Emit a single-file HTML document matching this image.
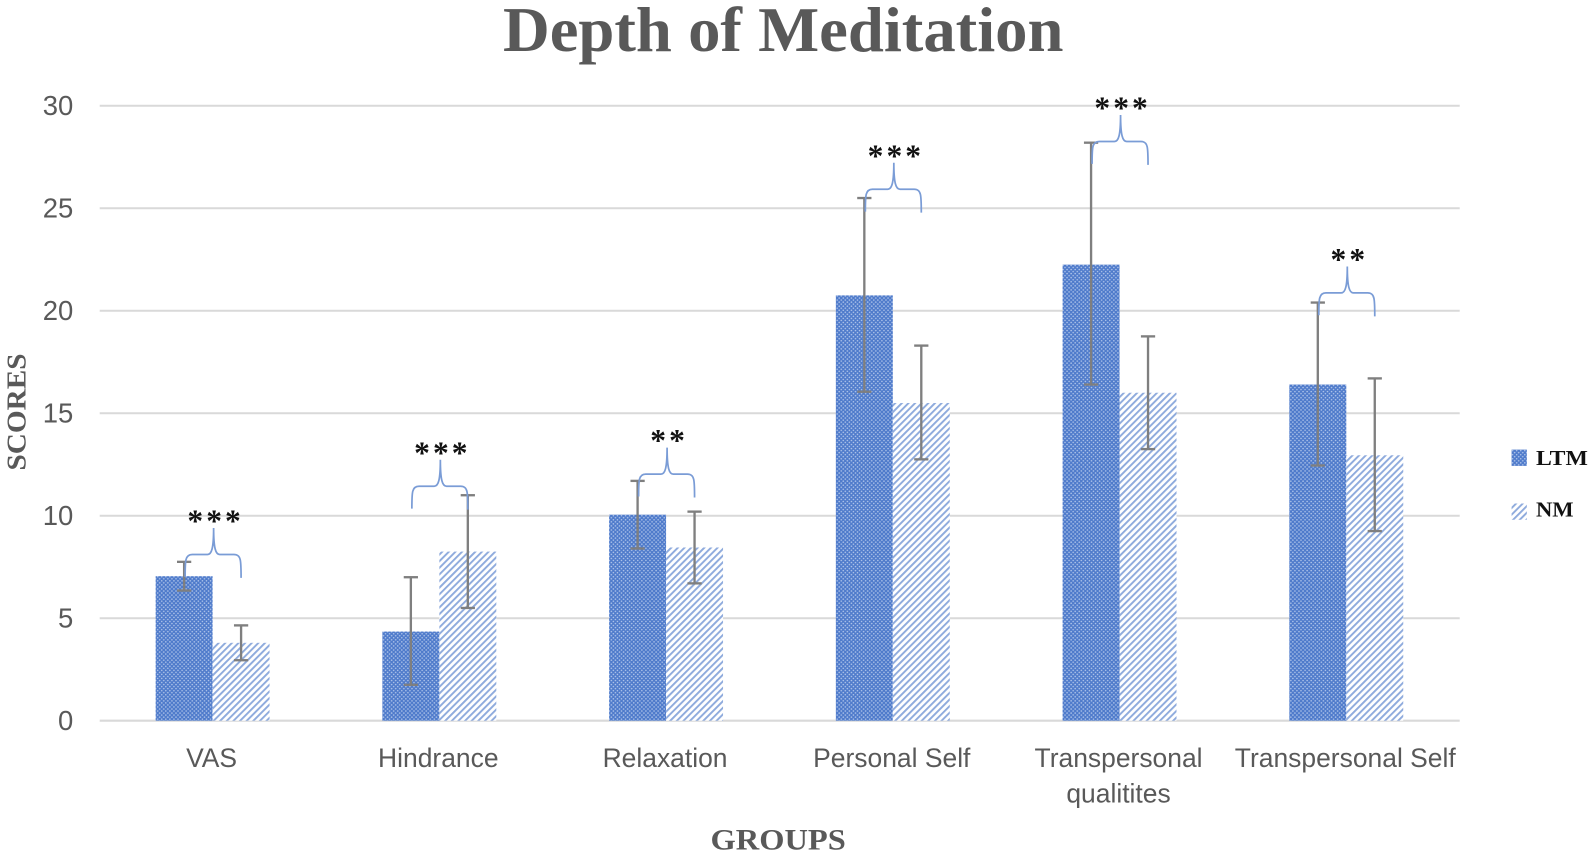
<!DOCTYPE html>
<html>
<head>
<meta charset="utf-8">
<title>Depth of Meditation</title>
<style>
html,body{margin:0;padding:0;background:#fff;}
svg{display:block;}
</style>
</head>
<body>
<svg id="chart" xmlns="http://www.w3.org/2000/svg" width="1595" height="857" viewBox="0 0 1568 842.5">
<defs>
<pattern id="dots" width="4" height="4" patternUnits="userSpaceOnUse">
<rect width="4" height="4" fill="#4f7bcb"/>
<circle cx="1" cy="1" r="0.8" fill="#b0c5ea"/>
<circle cx="3" cy="3" r="0.8" fill="#b0c5ea"/>
</pattern>
<pattern id="hatch" width="4.6" height="4.6" patternUnits="userSpaceOnUse" patternTransform="rotate(45)">
<rect width="4.6" height="4.6" fill="#fff"/>
<rect width="1.9" height="4.6" fill="#8fabdd"/>
</pattern>
</defs>
<text x="770" y="50" text-anchor="middle" font-family="'Liberation Serif',serif" font-weight="bold" font-size="62" fill="#595959" textLength="551" lengthAdjust="spacingAndGlyphs">Depth of Meditation</text>
<text transform="translate(25,405) rotate(-90)" text-anchor="middle" font-family="'Liberation Serif',serif" font-weight="bold" font-size="27" fill="#595959" textLength="115" lengthAdjust="spacingAndGlyphs">SCORES</text>
<text x="765" y="835" text-anchor="middle" font-family="'Liberation Serif',serif" font-weight="bold" font-size="29" fill="#595959" textLength="133" lengthAdjust="spacingAndGlyphs">GROUPS</text>
<g id="grid"></g>
<g id="bars"></g>
<g id="errs"></g>
<g id="sig"></g>
<g id="xlabels"></g>
<g>
<rect x="1486" y="442" width="15" height="16" fill="url(#dots)"/>
<text x="1510" y="457" font-family="'Liberation Serif',serif" font-weight="bold" font-size="21" fill="#111" textLength="51" lengthAdjust="spacingAndGlyphs">LTM</text>
<rect x="1486" y="495" width="15" height="16" fill="url(#hatch)"/>
<text x="1510" y="508" font-family="'Liberation Serif',serif" font-weight="bold" font-size="21" fill="#111" textLength="37" lengthAdjust="spacingAndGlyphs">NM</text>
</g>
</svg>
<script>
const categories = [["VAS"], ["Hindrance"], ["Relaxation"], ["Personal Self"], ["Transpersonal", "qualitites"], ["Transpersonal Self"]];
const ltmValues = [7.05, 4.35, 10.05, 20.75, 22.25, 16.4];
const nmValues = [3.8, 8.25, 8.45, 15.5, 16.0, 12.95];
const ltmHigh = [7.75, 7.0, 11.7, 25.5, 28.2, 20.4];
const ltmLow = [6.35, 1.75, 8.4, 16.05, 16.4, 12.45];
const nmHigh = [4.65, 11.0, 10.2, 18.3, 18.75, 16.7];
const nmLow = [2.95, 5.5, 6.7, 12.75, 13.25, 9.25];
const braceLevels = [8.11, 11.44, 12.03, 25.93, 28.26, 20.87];
const significance = ["***", "***", "**", "***", "***", "**"];
const yTicks = [0, 5, 10, 15, 20, 25, 30];

const NS = "http://www.w3.org/2000/svg";
const SANS = "'Liberation Sans',sans-serif";
const SERIF = "'Liberation Serif',serif";
const BAR_W = 56;
function yScale(v) { return 708.5 - v * 20.15; }
function xCenter(i) { return 209 + i * 222.9; }
function make(tag, attrs, parent, text) {
  const el = document.createElementNS(NS, tag);
  for (const k in attrs) el.setAttribute(k, attrs[k]);
  if (text !== undefined) el.textContent = text;
  parent.appendChild(el);
  return el;
}
const gGrid = document.getElementById("grid");
const gBars = document.getElementById("bars");
const gErrs = document.getElementById("errs");
const gSig = document.getElementById("sig");
const gX = document.getElementById("xlabels");

yTicks.forEach(function (t) {
  const line = make("line", {x1: 98, x2: 1435, y1: yScale(t), y2: yScale(t), stroke: "#d9d9d9", "stroke-width": 2}, gGrid);
  
  
  const label = make("text", {x: 72, y: yScale(t) + 9, "text-anchor": "end", "font-family": SANS, "font-size": 27, fill: "#595959"}, gGrid, String(t));
  
  
});

function drawError(x, hi, lo, cap) {
  const stem = make("line", {x1: x, x2: x, y1: yScale(hi), y2: yScale(lo), stroke: "#7f7f7f", "stroke-width": 2.3}, gErrs);
  
  
  [hi, lo].forEach(function (v) {
    const c = make("line", {x1: x - cap, x2: x + cap, y1: yScale(v), y2: yScale(v), stroke: "#7f7f7f", "stroke-width": 2.3}, gErrs);
    
    
  });
}

categories.forEach(function (lines, i) {
  const cx = xCenter(i);
  const b1 = make("rect", {x: cx - BAR_W, y: yScale(ltmValues[i]), width: BAR_W, height: yScale(0) - yScale(ltmValues[i]), fill: "url(#dots)"}, gBars);
  
  
  const b2 = make("rect", {x: cx, y: yScale(nmValues[i]), width: BAR_W, height: yScale(0) - yScale(nmValues[i]), fill: "url(#hatch)"}, gBars);
  
  
  drawError(cx - BAR_W / 2, ltmHigh[i], ltmLow[i], 7);
  drawError(cx + BAR_W / 2, nmHigh[i], nmLow[i], 7);

  const top = yScale(braceLevels[i]);
  const l = cx - 27, r = cx + 28, m = cx + 1;
  const d = "M" + l + " " + (top + 22) +
    " C" + l + " " + (top + 6) + " " + l + " " + top + " " + (l + 7) + " " + top +
    " L" + (m - 6) + " " + top +
    " C" + (m - 2) + " " + top + " " + m + " " + (top - 6) + " " + m + " " + (top - 26) +
    " C" + m + " " + (top - 6) + " " + (m + 2) + " " + top + " " + (m + 6) + " " + top +
    " L" + (r - 7) + " " + top +
    " C" + r + " " + top + " " + r + " " + (top + 6) + " " + r + " " + (top + 23);
  const brace = make("path", {d: d, fill: "none", stroke: "#7a9cd6", "stroke-width": 1.7}, gSig);
  
  
  const star = make("text", {x: m + 2, y: top - 22.5, "text-anchor": "middle", "font-family": SERIF, "font-weight": "bold", "font-size": 31, "letter-spacing": 3, fill: "#111"}, gSig, significance[i]);
  
  

  lines.forEach(function (line, j) {
    const t = make("text", {x: cx - 1, y: 754 + j * 35, "text-anchor": "middle", "font-family": SANS, "font-size": 26, fill: "#595959"}, gX, line);
    
    
  });
});
</script>
</body>
</html>
